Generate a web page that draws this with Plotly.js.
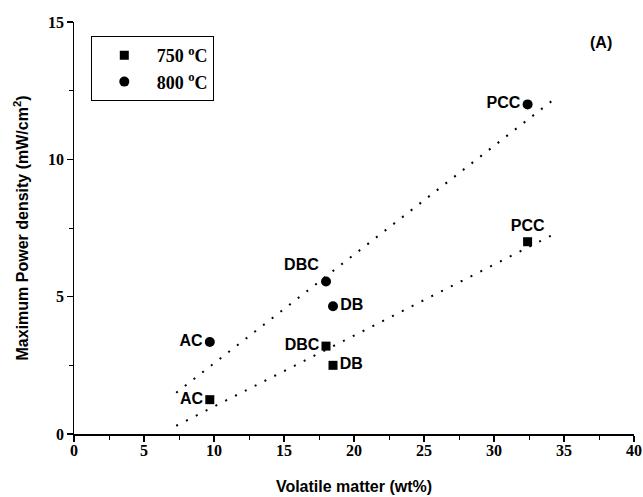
<!DOCTYPE html>
<html>
<head>
<meta charset="utf-8">
<script src="https://cdn.plot.ly/plotly-3.0.1.min.js"></script>
<style>
html,body{margin:0;padding:0;background:#fff;}
#chart{width:643px;height:497px;}
</style>
</head>
<body>
<div id="chart"></div>
<script>
// Data
const samples = ["AC", "DBC", "DB", "PCC"];
const volatileMatter = [9.7, 18.0, 18.5, 32.4];
const power750 = [1.25, 3.2, 2.5, 7.0];
const power800 = [3.35, 5.55, 4.65, 12.0];
const labelPos750 = ["middle left", "middle left", "middle right", "top center"];
const labelPos800 = ["middle left", "top left", "middle right", "middle left"];
const xTickVals = [0, 5, 10, 15, 20, 25, 30, 35, 40];
const xTickText = ["0", "5", "10", "15", "20", "25", "30", "35", "40"];
const yTickVals = [0, 5, 10, 15];
const yTickText = ["0", "5", "10", "15"];
// dotted trend lines (end points)
const fit750X = [7.3, 34.5];
const fit750Y = [0.3, 7.33];
const fit800X = [7.3, 34.5];
const fit800Y = [1.5, 12.27];

const labelFont = {family: "Liberation Sans", size: 16, color: "#000", weight: 700};
const tickFont = {family: "Liberation Serif", size: 16, color: "#000", weight: 700};

const traces = [
  {x: fit750X, y: fit750Y, mode: "lines", line: {color: "#000", width: 2, dash: "2px,9px"}, showlegend: false, hoverinfo: "skip"},
  {x: fit800X, y: fit800Y, mode: "lines", line: {color: "#000", width: 2, dash: "2px,9px"}, showlegend: false, hoverinfo: "skip"},
  {x: volatileMatter, y: power750, mode: "markers+text", name: "750 <sup>o</sup>C",
   marker: {symbol: "square", size: 9, color: "#000"}, text: samples, textposition: labelPos750, textfont: labelFont},
  {x: volatileMatter, y: power800, mode: "markers+text", name: "800 <sup>o</sup>C",
   marker: {symbol: "circle", size: 10, color: "#000"}, text: samples, textposition: labelPos800, textfont: labelFont}
];

const tickAnnotations = xTickVals.map((v, i) => ({
  xref: "x", yref: "paper", x: v, y: 0, xanchor: "center", yanchor: "top", yshift: -6,
  text: xTickText[i], showarrow: false, font: tickFont
})).concat(yTickVals.map((v, i) => ({
  xref: "paper", yref: "y", x: 0, y: v, xanchor: "right", yanchor: "middle", xshift: -8,
  text: yTickText[i], showarrow: false, font: tickFont
})));

const layout = {
  width: 643, height: 497,
  margin: {l: 74, r: 9, t: 22, b: 63},
  paper_bgcolor: "#fff", plot_bgcolor: "#fff",
  xaxis: {
    range: [0, 40], tickmode: "array", tickvals: xTickVals, showticklabels: false,
    showgrid: false, zeroline: false,
    showline: true, linecolor: "#000", linewidth: 1.5,
    ticks: "outside", ticklen: 6, tickwidth: 1.5, tickcolor: "#000",
    minor: {dtick: 2.5, ticks: "outside", ticklen: 4, tickwidth: 1, tickcolor: "#000"},
    title: {text: "Volatile matter (wt%)", font: labelFont, standoff: 40}
  },
  yaxis: {
    range: [0, 15], tickmode: "array", tickvals: yTickVals, showticklabels: false,
    showgrid: false, zeroline: false,
    showline: true, linecolor: "#000", linewidth: 1.5,
    ticks: "outside", ticklen: 6, tickwidth: 1.5, tickcolor: "#000",
    minor: {dtick: 2.5, ticks: "outside", ticklen: 4, tickwidth: 1, tickcolor: "#000"},
    title: {text: "Maximum Power density (mW/cm<sup>2</sup>)", font: labelFont, standoff: 34}
  },
  xaxis2: {
    overlaying: "x", side: "top", anchor: "y", range: [0, 40], dtick: 5, showgrid: false, zeroline: false,
    showline: true, linecolor: "#000", linewidth: 1.5, showticklabels: false,
    ticks: "inside", ticklen: 4, tickwidth: 1, tickcolor: "#000",
    minor: {dtick: 2.5, ticks: "inside", ticklen: 3, tickwidth: 1, tickcolor: "#000"}
  },
  yaxis2: {
    overlaying: "y", side: "right", anchor: "x", range: [0, 15], dtick: 5, showgrid: false, zeroline: false,
    showline: true, linecolor: "#000", linewidth: 1.5, showticklabels: false,
    ticks: "inside", ticklen: 4, tickwidth: 1, tickcolor: "#000",
    minor: {dtick: 2.5, ticks: "inside", ticklen: 3, tickwidth: 1, tickcolor: "#000"}
  },
  showlegend: true,
  legend: {
    x: 0.03, y: 0.966, xanchor: "left", yanchor: "top",
    bordercolor: "#000", borderwidth: 1, bgcolor: "#fff",
    font: {family: "Liberation Serif", size: 18, color: "#000", weight: 700},
    itemwidth: 55
  },
  annotations: [
    {xref: "paper", yref: "paper", x: 0.965, y: 0.975, xanchor: "right", yanchor: "top",
     text: "(A)", showarrow: false, font: labelFont}
  ].concat(tickAnnotations)
};

Plotly.newPlot("chart", traces, layout, {displayModeBar: false, staticPlot: true});
</script>
</body>
</html>
